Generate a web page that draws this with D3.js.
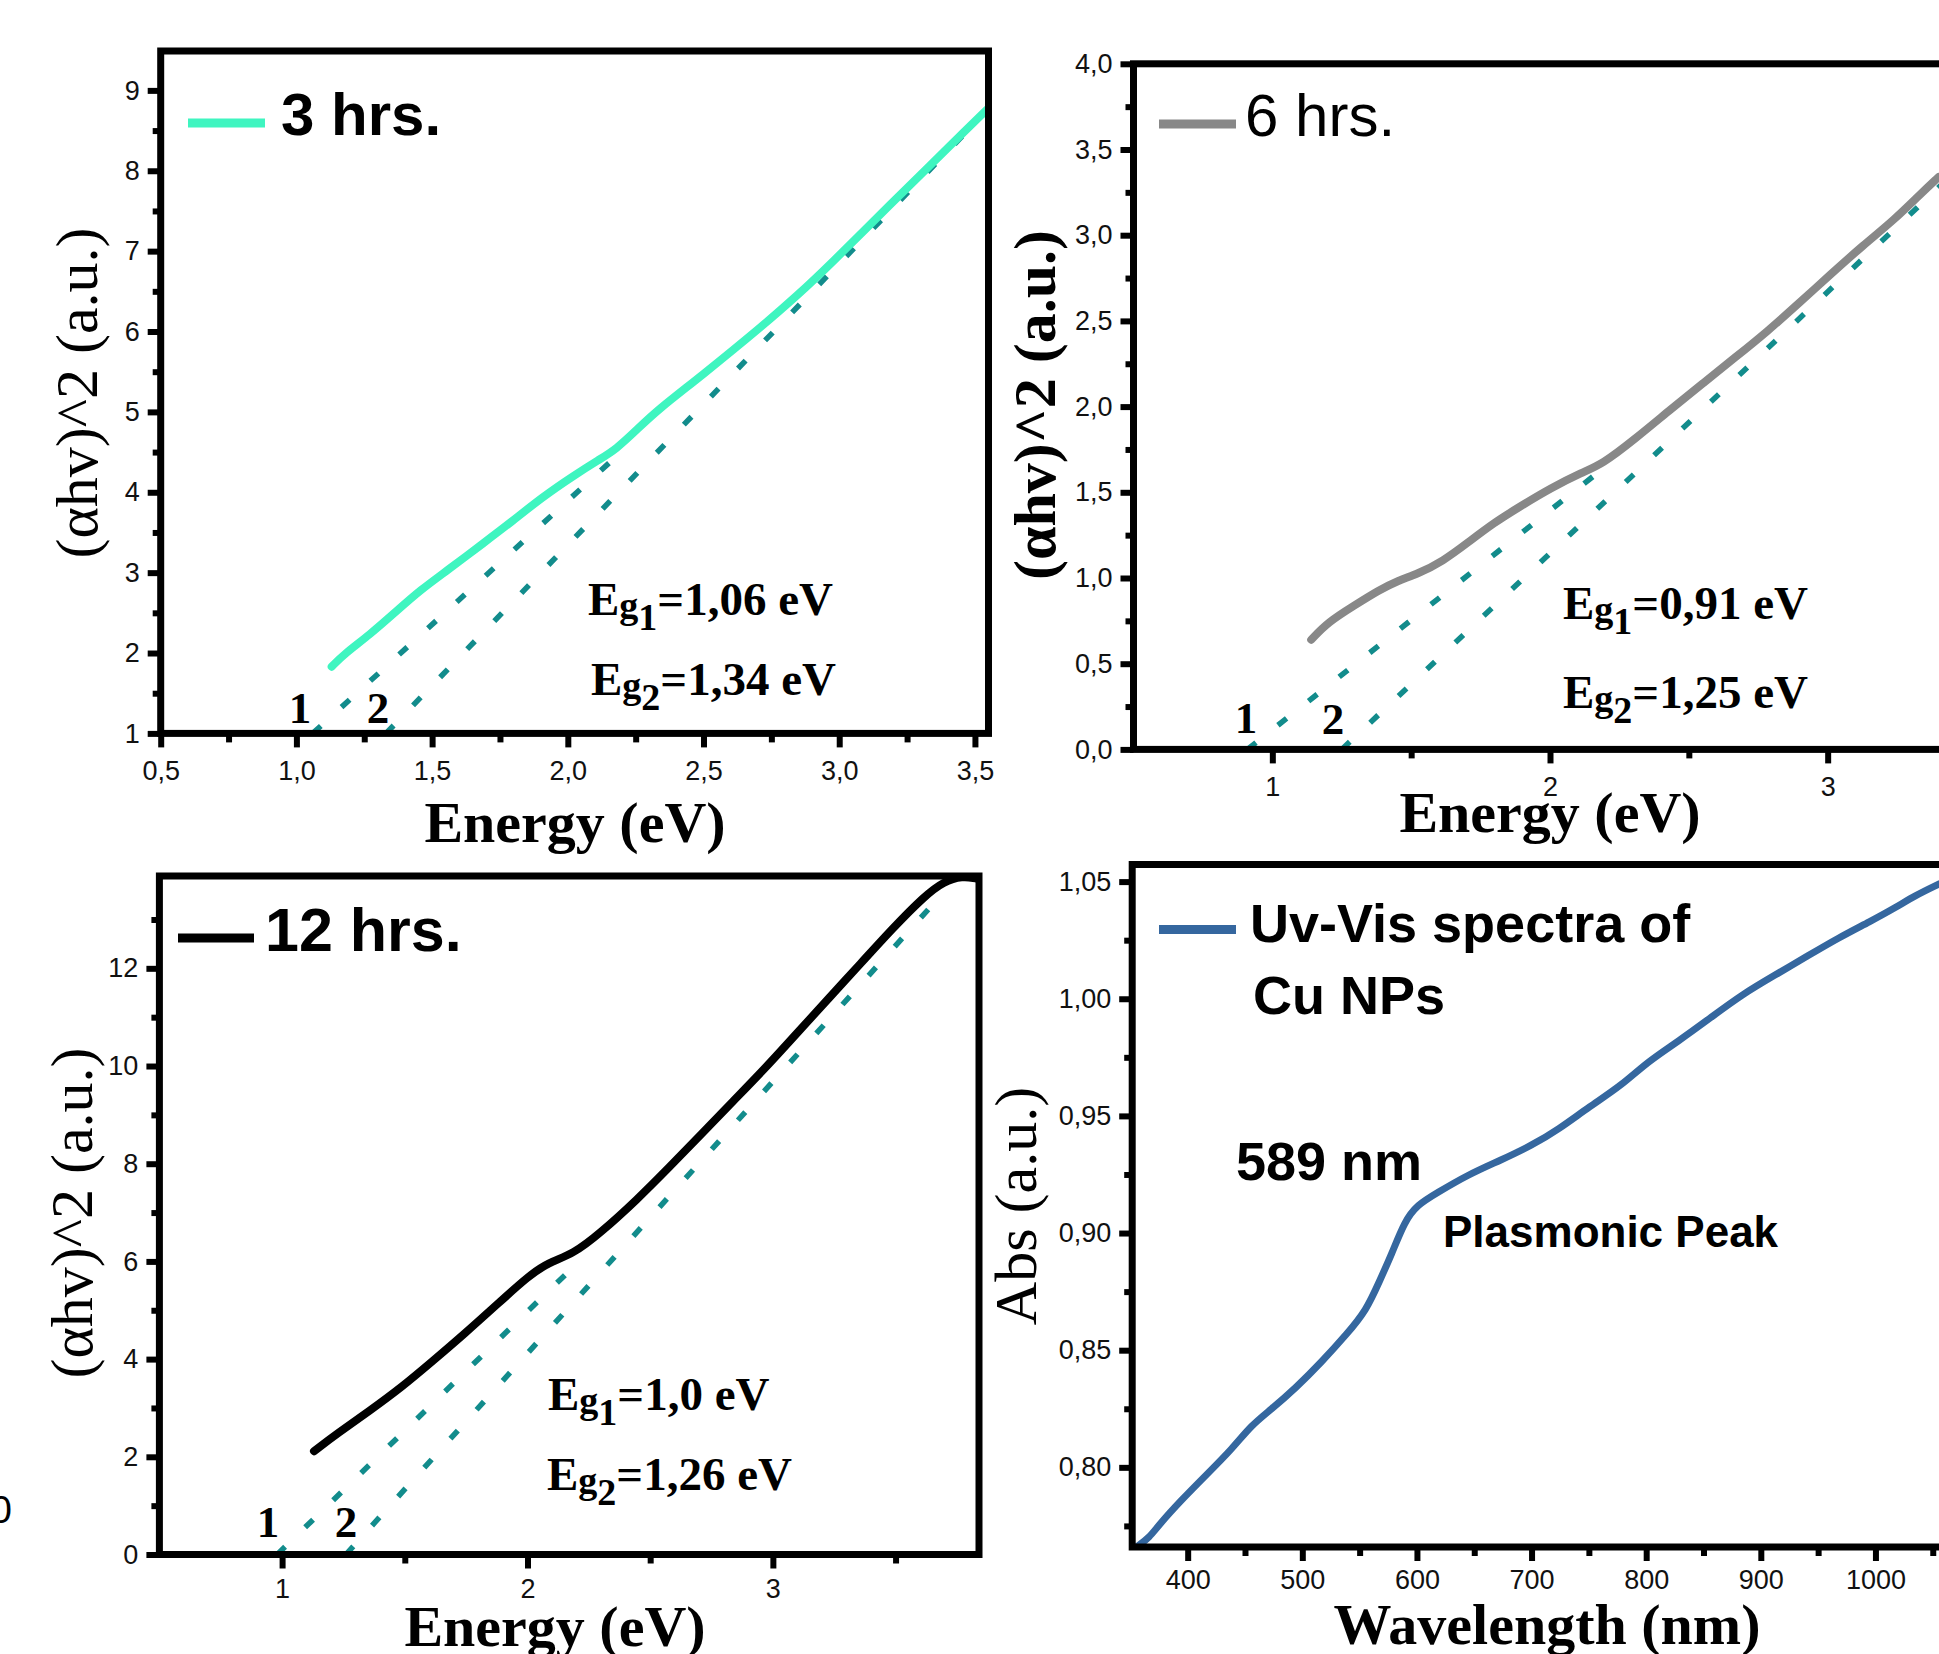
<!DOCTYPE html>
<html>
<head>
<meta charset="utf-8">
<script src="https://cdn.jsdelivr.net/npm/d3@7"></script>
<style>
  body { margin: 0; background: #fff; }
  svg { display: block; }
</style>
</head>
<body>
<div id="chart"></div>
<script>
// ---- data ----
const energy3h = [1.13, 1.177, 1.271, 1.365, 1.459, 1.553, 1.694, 1.788, 1.906, 2.023, 2.117, 2.176, 2.258, 2.329, 2.493, 2.728, 2.846, 2.963, 3.199, 3.34, 3.434, 3.55];
const tauc3h = [1.83, 1.99, 2.23, 2.51, 2.79, 3.02, 3.38, 3.62, 3.94, 4.21, 4.41, 4.53, 4.79, 5.02, 5.45, 6.10, 6.45, 6.82, 7.62, 8.08, 8.40, 8.78];

const energy6h = [1.14, 1.202, 1.293, 1.385, 1.454, 1.522, 1.614, 1.706, 1.797, 1.889, 2.003, 2.118, 2.187, 2.301, 2.439, 2.553, 2.668, 2.782, 2.897, 3.011, 3.126, 3.24, 3.332, 3.40];
const tauc6h = [0.64, 0.744, 0.837, 0.93, 0.986, 1.023, 1.097, 1.209, 1.321, 1.414, 1.525, 1.618, 1.663, 1.804, 1.99, 2.139, 2.288, 2.437, 2.604, 2.772, 2.939, 3.09, 3.237, 3.34];

const energy12h = [1.13, 1.226, 1.356, 1.486, 1.616, 1.746, 1.876, 2.006, 2.084, 2.188, 2.292, 2.448, 2.578, 2.708, 2.838, 2.968, 3.098, 3.228, 3.358, 3.488, 3.618, 3.696, 3.774, 3.826];
const tauc12h = [2.115, 2.48, 2.94, 3.42, 3.97, 4.53, 5.12, 5.71, 5.97, 6.16, 6.56, 7.27, 7.93, 8.60, 9.28, 9.95, 10.67, 11.39, 12.10, 12.82, 13.48, 13.78, 13.89, 13.84];

const wavelength = [355.5, 366.6, 375, 394.4, 416.7, 439, 455.6, 472.3, 494.6, 516.9, 539.1, 555.8, 566.9, 578, 589.2, 600.3, 617, 644.9, 672.7, 700.5, 722.8, 750.6, 778.5, 800.8, 828.5, 856.4, 884.2, 912, 939.9, 967.7, 995.5, 1017.8, 1034.5, 1055.6];
const absorbance = [0.766, 0.770, 0.7755, 0.786, 0.797, 0.808, 0.818, 0.8245, 0.834, 0.845, 0.857, 0.867, 0.879, 0.891, 0.905, 0.912, 0.917, 0.925, 0.931, 0.9375, 0.944, 0.954, 0.963, 0.973, 0.982, 0.992, 1.002, 1.010, 1.018, 1.026, 1.033, 1.039, 1.044, 1.049];

// tangent (Tauc) lines: [x1, y1, x2, y2]
const tangents3h = [[1.06, 1, 2.18, 4.45], [1.33, 1, 3.55, 8.77]];
const tangents6h = [[0.91, 0, 2.2, 1.65], [1.25, 0, 3.42, 3.31]];
const tangents12h = [[0.98, 0, 2.2, 5.95], [1.26, 0, 3.67, 13.41]];

const gaps3h = ["1,06", "1,34"];
const gaps6h = ["0,91", "1,25"];
const gaps12h = ["1,0", "1,26"];

const xTicks3h = [0.5, 1, 1.5, 2, 2.5, 3, 3.5];
const yTicks3h = [1, 2, 3, 4, 5, 6, 7, 8, 9];
const xTicksE = [1, 2, 3];
const yTicks6h = [0, 0.5, 1, 1.5, 2, 2.5, 3, 3.5, 4];
const yTicks12h = [0, 2, 4, 6, 8, 10, 12];
const xTicksWl = [400, 500, 600, 700, 800, 900, 1000];
const yTicksAbs = [0.80, 0.85, 0.90, 0.95, 1.00, 1.05];

const serif = '"Liberation Serif", "Times New Roman", serif';
const sans = '"Liberation Sans", Arial, sans-serif';
const teal = "#128c8c";

const svg = d3.select("#chart").append("svg")
    .attr("width", 1939)
    .attr("height", 1654);

let clipId = 0;

function comma(dec) {
    return d => d.toFixed(dec).replace(".", ",");
}

function drawPanel(p) {
    const g = svg.append("g");
    const x = d3.scaleLinear().domain(p.xDomain).range([p.L, p.R]);
    const y = d3.scaleLinear().domain(p.yDomain).range([p.B, p.T]);

    // minor ticks
    g.append("g")
        .attr("transform", `translate(0,${p.B})`)
        .call(d3.axisBottom(x).tickValues(p.xMinor).tickSize(9).tickFormat(""));
    g.append("g")
        .attr("transform", `translate(${p.L},0)`)
        .call(d3.axisLeft(y).tickValues(p.yMinor).tickSize(8).tickFormat(""));

    // major ticks + labels
    g.append("g")
        .attr("transform", `translate(0,${p.B})`)
        .call(d3.axisBottom(x).tickValues(p.xMajor).tickSize(14).tickPadding(p.xPad).tickFormat(p.xFmt));
    g.append("g")
        .attr("transform", `translate(${p.L},0)`)
        .call(d3.axisLeft(y).tickValues(p.yMajor).tickSize(13).tickPadding(8).tickFormat(p.yFmt));

    g.selectAll(".domain").remove();
    g.selectAll(".tick line").attr("stroke", "#000").attr("stroke-width", 6);
    g.selectAll(".tick text")
        .attr("fill", "#111")
        .style("font-family", sans)
        .style("font-size", "27px");

    // clip to the frame
    const cid = "clip" + (clipId++);
    g.append("clipPath").attr("id", cid)
        .append("rect")
        .attr("x", p.L).attr("y", p.T)
        .attr("width", p.R - p.L).attr("height", p.B - p.T);
    const inner = g.append("g").attr("clip-path", `url(#${cid})`);

    // tangent lines
    if (p.tangents) {
        inner.selectAll(".tan")
            .data(p.tangents)
            .enter().append("line")
            .attr("x1", d => x(d[0])).attr("y1", d => y(d[1]))
            .attr("x2", d => x(d[2])).attr("y2", d => y(d[3]))
            .attr("stroke", teal)
            .attr("stroke-width", 5.5)
            .attr("stroke-dasharray", "11,28");
    }

    // curve
    const pts = p.xs.map((v, i) => [v, p.ys[i]]);
    inner.append("path")
        .attr("d", d3.line().x(d => x(d[0])).y(d => y(d[1])).curve(d3.curveBasis)(pts))
        .attr("fill", "none")
        .attr("stroke", p.color)
        .attr("stroke-width", p.lw)
        .attr("stroke-linecap", "round")
        .attr("stroke-linejoin", "round");

    // frame
    g.append("rect")
        .attr("x", p.L).attr("y", p.T)
        .attr("width", p.R - p.L).attr("height", p.B - p.T)
        .attr("fill", "none")
        .attr("stroke", "#000")
        .attr("stroke-width", 7);

    // legend
    g.append("line")
        .attr("x1", p.leg.x1).attr("x2", p.leg.x2)
        .attr("y1", p.leg.y).attr("y2", p.leg.y)
        .attr("stroke", p.color)
        .attr("stroke-width", 9);
    p.leg.lines.forEach(l => {
        g.append("text")
            .attr("x", l.x).attr("y", l.y)
            .style("font-family", sans)
            .style("font-weight", p.leg.bold ? "bold" : "normal")
            .style("font-size", l.size + "px")
            .text(l.t);
    });

    // axis titles
    g.append("text")
        .attr("x", p.xLab.x).attr("y", p.xLab.y)
        .attr("text-anchor", "middle")
        .style("font-family", serif)
        .style("font-weight", "bold")
        .style("font-size", "58px")
        .text(p.xLab.t);
    g.append("text")
        .attr("transform", `translate(${p.yLab.x},${p.yLab.y}) rotate(-90)`)
        .attr("text-anchor", "middle")
        .attr("dy", "0.35em")
        .style("font-family", serif)
        .style("font-weight", p.yLab.bold ? "bold" : "normal")
        .style("font-size", "60px")
        .text(p.yLab.t);

    // band gap annotations
    if (p.gaps) {
        p.gaps.forEach((val, i) => {
            const t = g.append("text")
                .attr("x", p.gapPos[i][0]).attr("y", p.gapPos[i][1])
                .style("font-family", serif)
                .style("font-weight", "bold")
                .style("font-size", "47px");
            t.append("tspan").text("E");
            t.append("tspan").style("font-size", "38px").attr("dy", 3).text("g");
            t.append("tspan").style("font-size", "38px").attr("dy", 12).text(String(i + 1));
            t.append("tspan").attr("dy", -15).text("=" + val + " eV");
        });
        p.numPos.forEach((np, i) => {
            g.append("text")
                .attr("x", np[0]).attr("y", np[1])
                .attr("text-anchor", "middle")
                .style("font-family", serif)
                .style("font-weight", "bold")
                .style("font-size", "45px")
                .text(String(i + 1));
        });
    }
    return { g, x, y };
}

// 3 hrs.
drawPanel({
    L: 160.7, T: 51, R: 988.5, B: 733.4,
    xDomain: [0.5, 3.55], yDomain: [1, 9.49],
    xMajor: xTicks3h, xMinor: d3.range(0.75, 3.6, 0.5), xFmt: comma(1), xPad: 13,
    yMajor: yTicks3h, yMinor: d3.range(1.5, 9.5, 1), yFmt: d3.format("d"),
    xs: energy3h, ys: tauc3h, color: "#3ff5c0", lw: 8,
    tangents: tangents3h,
    leg: { x1: 188, x2: 265, y: 123, bold: true, lines: [{ t: "3 hrs.", x: 281, y: 135, size: 60 }] },
    xLab: { t: "Energy (eV)", x: 575, y: 842 },
    yLab: { t: "(αhv)^2 (a.u.)", x: 76, y: 393, bold: false },
    gaps: gaps3h, gapPos: [[588, 615], [591, 695]],
    numPos: [[300, 723], [378, 723]]
});

// 6 hrs.
drawPanel({
    L: 1133.5, T: 63.8, R: 1966.5, B: 749.4,
    xDomain: [0.5, 3.5], yDomain: [0, 4],
    xMajor: xTicksE, xMinor: [1.5, 2.5, 3.5], xFmt: d3.format("d"), xPad: 13,
    yMajor: yTicks6h, yMinor: d3.range(0.25, 4, 0.5), yFmt: comma(1),
    xs: energy6h, ys: tauc6h, color: "#888888", lw: 8,
    tangents: tangents6h,
    leg: { x1: 1159, x2: 1236, y: 124, bold: false, lines: [{ t: "6 hrs.", x: 1245, y: 136, size: 60 }] },
    xLab: { t: "Energy (eV)", x: 1550, y: 832 },
    yLab: { t: "(αhv)^2 (a.u.)", x: 1034, y: 405, bold: true },
    gaps: gaps6h, gapPos: [[1563, 619], [1563, 708]],
    numPos: [[1246, 733], [1333, 734]]
});

// 12 hrs.
drawPanel({
    L: 159.4, T: 876, R: 979, B: 1554.5,
    xDomain: [0.5, 3.84], yDomain: [0, 13.89],
    xMajor: xTicksE, xMinor: [1.5, 2.5, 3.5], xFmt: d3.format("d"), xPad: 10,
    yMajor: yTicks12h, yMinor: d3.range(1, 14, 2), yFmt: d3.format("d"),
    xs: energy12h, ys: tauc12h, color: "#000000", lw: 8,
    tangents: tangents12h,
    leg: { x1: 178, x2: 254, y: 938, bold: true, lines: [{ t: "12 hrs.", x: 265, y: 951, size: 61 }] },
    xLab: { t: "Energy (eV)", x: 555, y: 1646 },
    yLab: { t: "(αhv)^2 (a.u.)", x: 71, y: 1213, bold: false },
    gaps: gaps12h, gapPos: [[548, 1410], [547, 1490]],
    numPos: [[268, 1537], [346, 1537]]
});

// UV-Vis
const uv = drawPanel({
    L: 1132.2, T: 864.5, R: 1966, B: 1547,
    xDomain: [351.6, 1079], yDomain: [0.766, 1.0573],
    xMajor: xTicksWl, xMinor: d3.range(450, 1080, 100), xFmt: d3.format("d"), xPad: 9,
    yMajor: yTicksAbs, yMinor: d3.range(0.775, 1.06, 0.05), yFmt: comma(2),
    xs: wavelength, ys: absorbance, color: "#35679f", lw: 7,
    tangents: null,
    leg: { x1: 1159, x2: 1236, y: 929.5, bold: true, lines: [
        { t: "Uv-Vis spectra of", x: 1250, y: 942, size: 54 },
        { t: "Cu NPs", x: 1253, y: 1014, size: 54 }] },
    xLab: { t: "Wavelength (nm)", x: 1547, y: 1644 },
    yLab: { t: "Abs (a.u.)", x: 1015, y: 1206, bold: false },
    gaps: null
});

uv.g.append("text")
    .attr("x", 1236).attr("y", 1180)
    .style("font-family", sans).style("font-weight", "bold").style("font-size", "54px")
    .text("589 nm");
uv.g.append("text")
    .attr("x", 1443).attr("y", 1247)
    .style("font-family", sans).style("font-weight", "bold").style("font-size", "44px")
    .text("Plasmonic Peak");

// cut-off tick label at the left edge of the original image
svg.append("text")
    .attr("x", 12).attr("y", 1523)
    .attr("text-anchor", "end")
    .style("font-family", sans).style("font-size", "39px")
    .text("0");
</script>
</body>
</html>
